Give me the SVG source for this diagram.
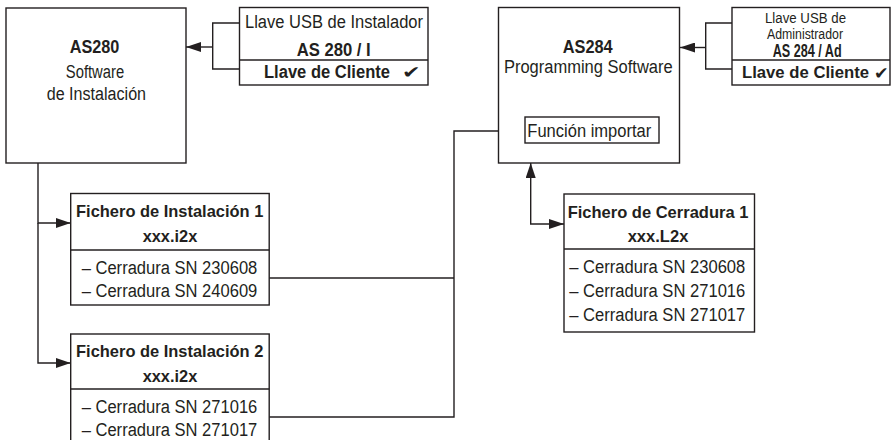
<svg xmlns="http://www.w3.org/2000/svg" width="894" height="440" viewBox="0 0 894 440">
<defs>
<marker id="ar" markerUnits="userSpaceOnUse" markerWidth="15" markerHeight="10" refX="15" refY="5" orient="auto-start-reverse">
<path d="M0,0 L15,5 L0,10 z" fill="#231f20"/>
</marker>
</defs>
<style>
.b{fill:#fff;stroke:#231f20;stroke-width:1.4}
.d{stroke:#231f20;stroke-width:1.4;fill:none}
.c{fill:none;stroke:#231f20;stroke-width:1.4}
text{font-family:"Liberation Sans",Arial,sans-serif;fill:#231f20;text-anchor:middle}
.t{font-size:18px}
.s{font-size:14px}
.bt{font-size:17px;font-weight:bold}
.bb{font-size:18px;font-weight:bold}
.bk{font-size:16.5px;font-weight:bold}
.ck{font-family:"DejaVu Sans",sans-serif;font-size:17px;text-anchor:start}
</style>
<rect width="894" height="440" fill="#fff"/>
<g id="connectors">
<path class="c" d="M239.5,23 H212.7 V69 H239.5"/>
<path class="c" d="M212.7,47 H186" marker-end="url(#ar)"/>
<path class="c" d="M732,23 H705.7 V69 H732"/>
<path class="c" d="M705.7,47.5 H680" marker-end="url(#ar)"/>
<path class="c" d="M38,163 V223 H70.7" marker-end="url(#ar)"/>
<path class="c" d="M38,223 V363 H70.7" marker-end="url(#ar)"/>
<path class="c" d="M269,278 H454"/>
<path class="c" d="M269,417 H454 V131 H525" marker-end="url(#ar)"/>
<path class="c" d="M530.7,163 V224 H564" marker-start="url(#ar)" marker-end="url(#ar)"/>
</g>
<g id="as280">
<rect class="b" x="6" y="8" width="180" height="155"/>
<text class="bb" x="94.5" y="52.7" textLength="49.7" lengthAdjust="spacingAndGlyphs">AS280</text>
<text class="t" x="95" y="78" textLength="58.3" lengthAdjust="spacingAndGlyphs">Software</text>
<text class="t" x="96.4" y="100" textLength="99.3" lengthAdjust="spacingAndGlyphs">de Instalación</text>
</g>
<g id="key1">
<rect class="b" x="239.5" y="7.5" width="188.5" height="77.5"/>
<line class="d" x1="239.5" y1="60" x2="428" y2="60"/>
<text class="t" x="334" y="28.3" textLength="178" lengthAdjust="spacingAndGlyphs">Llave USB de Instalador</text>
<text class="bb" x="333.7" y="56" textLength="74" lengthAdjust="spacingAndGlyphs">AS 280 / I</text>
<text class="bb" x="327" y="78" textLength="126" lengthAdjust="spacingAndGlyphs">Llave de Cliente</text>
<text class="ck" x="402" y="78" textLength="18.5" lengthAdjust="spacingAndGlyphs">✔</text>
</g>
<g id="as284">
<rect class="b" x="498.5" y="7.5" width="181" height="155.5"/>
<text class="bb" x="587.7" y="52.7" textLength="50" lengthAdjust="spacingAndGlyphs">AS284</text>
<text class="t" x="588.3" y="72.5" textLength="168.7" lengthAdjust="spacingAndGlyphs">Programming Software</text>
</g>
<g id="funcion">
<rect class="b" x="525" y="117" width="134" height="26"/>
<text class="t" x="589.3" y="136.7" textLength="124" lengthAdjust="spacingAndGlyphs">Función importar</text>
</g>
<g id="key2">
<rect class="b" x="732" y="7.5" width="158" height="77.5"/>
<line class="d" x1="732" y1="60" x2="890" y2="60"/>
<text class="s" x="805.5" y="22.5" textLength="81" lengthAdjust="spacingAndGlyphs">Llave USB de</text>
<text class="s" x="805" y="38.5" textLength="76" lengthAdjust="spacingAndGlyphs">Administrador</text>
<text class="bb" x="807.2" y="56.5" textLength="69" lengthAdjust="spacingAndGlyphs">AS 284 / Ad</text>
<text class="bk" x="805.5" y="78" textLength="127" lengthAdjust="spacingAndGlyphs">Llave de Cliente</text>
<text class="ck" x="874" y="79" textLength="14.5" lengthAdjust="spacingAndGlyphs">✔</text>
</g>
<g id="fichero1">
<rect class="b" x="70.7" y="193.5" width="198.5" height="111.5"/>
<line class="d" x1="70.7" y1="250" x2="269.2" y2="250"/>
<text class="bt" x="169.7" y="216.7" textLength="187.3" lengthAdjust="spacingAndGlyphs">Fichero de Instalación 1</text>
<text class="bt" x="170" y="241.7" textLength="54.7" lengthAdjust="spacingAndGlyphs">xxx.i2x</text>
<text class="t" x="169.5" y="274" textLength="175.6" lengthAdjust="spacingAndGlyphs">– Cerradura SN 230608</text>
<text class="t" x="169.5" y="296.7" textLength="175.6" lengthAdjust="spacingAndGlyphs">– Cerradura SN 240609</text>
</g>
<g id="fichero2">
<rect class="b" x="70.7" y="334" width="198.5" height="112"/>
<line class="d" x1="70.7" y1="389" x2="269.2" y2="389"/>
<text class="bt" x="169.7" y="356.7" textLength="187.3" lengthAdjust="spacingAndGlyphs">Fichero de Instalación 2</text>
<text class="bt" x="170" y="381.7" textLength="54.7" lengthAdjust="spacingAndGlyphs">xxx.i2x</text>
<text class="t" x="169.5" y="413.3" textLength="175.6" lengthAdjust="spacingAndGlyphs">– Cerradura SN 271016</text>
<text class="t" x="169.5" y="436" textLength="175.6" lengthAdjust="spacingAndGlyphs">– Cerradura SN 271017</text>
</g>
<g id="cerradura1">
<rect class="b" x="564" y="194" width="190.5" height="138"/>
<line class="d" x1="564" y1="249" x2="754.5" y2="249"/>
<text class="bt" x="658" y="218.3" textLength="180.7" lengthAdjust="spacingAndGlyphs">Fichero de Cerradura 1</text>
<text class="bt" x="658" y="241.7" textLength="60.7" lengthAdjust="spacingAndGlyphs">xxx.L2x</text>
<text class="t" x="657.3" y="272.7" textLength="176" lengthAdjust="spacingAndGlyphs">– Cerradura SN 230608</text>
<text class="t" x="657.3" y="296.7" textLength="176" lengthAdjust="spacingAndGlyphs">– Cerradura SN 271016</text>
<text class="t" x="657.3" y="320.7" textLength="176" lengthAdjust="spacingAndGlyphs">– Cerradura SN 271017</text>
</g>
</svg>
